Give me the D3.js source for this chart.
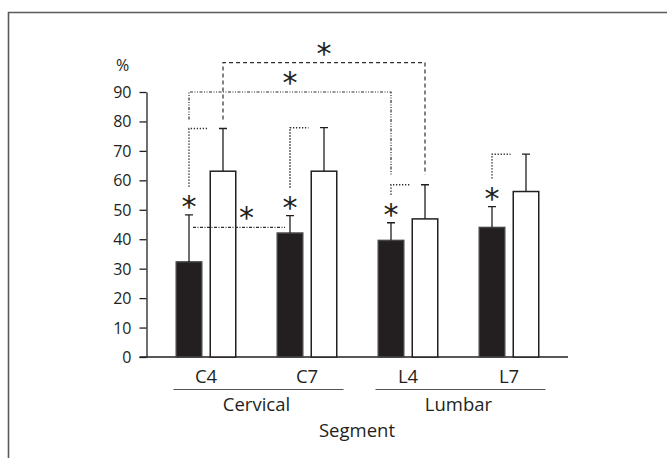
<!DOCTYPE html>
<html>
<head>
<script src="https://d3js.org/d3.v7.min.js"></script>
<style>
  body { margin: 0; background: #fff; }
  svg text { font-family: "Open Sans", sans-serif; fill: #231f20; }
</style>
</head>
<body>
<svg width="667" height="458"></svg>
<script>
// data (%), upper error bar = mean + SD
const segments = ["C4", "C7", "L4", "L7"];
const regions = [
  { name: "Cervical", segs: ["C4", "C7"] },
  { name: "Lumbar", segs: ["L4", "L7"] }
];
const series = ["filled", "open"];
const filledMean = [32.3, 42.1, 39.6, 44.0];
const filledErr = [48.3, 48.0, 45.6, 51.1];
const openMean = [63.1, 63.1, 46.9, 56.2];
const openErr = [77.6, 77.9, 58.5, 68.9];
const yTicks = [0, 10, 20, 30, 40, 50, 60, 70, 80, 90];

// significance: within each segment (filled vs open), and between segments
const withinSig = ["C4", "C7", "L4", "L7"];
const betweenSig = [
  { from: "C4", to: "C7", series: "filled", level: 44 },
  { from: "C4", to: "L4", series: "filled", level: 90 },
  { from: "C4", to: "L4", series: "open", level: 100 }
];

const svg = d3.select("svg");
const ink = "#231f20";

const rows = segments.map((s, i) => ({
  seg: s,
  filled: { mean: filledMean[i], err: filledErr[i] },
  open: { mean: openMean[i], err: openErr[i] }
}));
const bySeg = new Map(rows.map(d => [d.seg, d]));

// frame (top and left edges only)
svg.append("path")
  .attr("d", "M8.5,458V12.5H667")
  .attr("fill", "none")
  .attr("stroke", "#5a5a5a")
  .attr("stroke-width", 1.6);

const y = d3.scaleLinear().domain([0, 90]).range([357, 92]);
const x = d3.scaleBand().domain(segments).range([155.5, 559.5]);
const xs = d3.scaleBand().domain(series).range([20, 81]).paddingInner(0.206);
const cx = (seg, s) => x(seg) + xs(s) + xs.bandwidth() / 2;

// y axis
const yAxis = svg.append("g")
  .attr("transform", "translate(146.5,0)")
  .call(d3.axisLeft(y).tickValues(yTicks).tickSize(7).tickSizeOuter(0).tickPadding(8));
yAxis.selectAll("path, line").attr("stroke", ink).attr("stroke-width", 1.3);
yAxis.selectAll("text").style("font-size", "16px").attr("fill", ink).attr("dy", "0.34em");

svg.append("text")
  .attr("x", 122.5).attr("y", 71)
  .attr("text-anchor", "middle")
  .style("font-size", "16px")
  .text("%");

// baseline
svg.append("line")
  .attr("x1", 139.5).attr("x2", x.range()[1] + 8.5)
  .attr("y1", y(0)).attr("y2", y(0))
  .attr("stroke", ink).attr("stroke-width", 1.3);

// bars
const g = svg.append("g");
series.forEach(s => {
  g.selectAll(".bar-" + s)
    .data(rows)
    .join("rect")
    .attr("x", d => x(d.seg) + xs(s) + 0.75)
    .attr("width", xs.bandwidth() - 1.5)
    .attr("y", d => y(d[s].mean))
    .attr("height", d => y(0) - y(d[s].mean))
    .attr("fill", s === "filled" ? ink : "#fff")
    .attr("stroke", s === "filled" ? "#444" : ink)
    .attr("stroke-width", 1.5);

  // upper error bars
  g.selectAll(".err-" + s)
    .data(rows)
    .join("path")
    .attr("d", d => {
      const c = cx(d.seg, s);
      return `M${c},${y(d[s].mean)}V${y(d[s].err)}M${c - 4},${y(d[s].err)}H${c + 4}`;
    })
    .attr("fill", "none")
    .attr("stroke", ink)
    .attr("stroke-width", 1.3);
});

// x labels
svg.append("g").selectAll("text")
  .data(segments)
  .join("text")
  .attr("x", d => x(d) + x.bandwidth() / 2)
  .attr("y", 383)
  .attr("text-anchor", "middle")
  .style("font-size", "18.5px")
  .text(d => d);

regions.forEach(r => {
  const x0 = x(r.segs[0]) + 18;
  const x1 = x(r.segs[r.segs.length - 1]) + 87;
  svg.append("line")
    .attr("x1", x0).attr("x2", x1)
    .attr("y1", 389.5).attr("y2", 389.5)
    .attr("stroke", "#555").attr("stroke-width", 1);
  svg.append("text")
    .attr("x", (x0 + x1) / 2 - 2)
    .attr("y", 410.5)
    .attr("text-anchor", "middle")
    .style("font-size", "18.5px")
    .text(r.name);
});

svg.append("text")
  .attr("x", 357).attr("y", 436.5)
  .attr("text-anchor", "middle")
  .style("font-size", "18.5px")
  .text("Segment");

// asterisk helper: (px, py) is the centre of the glyph
function star(px, py) {
  svg.append("text")
    .attr("x", px).attr("y", py + 17)
    .attr("text-anchor", "middle")
    .style("font-family", "DejaVu Sans")
    .style("font-size", "30px")
    .text("*");
}

const ann = svg.append("g")
  .attr("fill", "none")
  .attr("stroke", "#2e2e2e")
  .attr("stroke-width", 1.2);

// within-segment brackets (dotted)
withinSig.forEach(seg => {
  const d = bySeg.get(seg);
  const c = cx(seg, "filled");
  const top = y(d.open.err);
  ann.append("path")
    .attr("d", `M${c},${y(d.filled.err) - 28}V${top}H${x(seg) + xs("open") - 2}`)
    .attr("stroke-width", 1.5)
    .attr("stroke-dasharray", "1.3,1.7");
  star(c, y(d.filled.err) - 15);
});

// between-segment brackets
const dashes = ["3,1.5,1,1.5", "3,1.5,1,1.5,1,1.5", "4,3"];
betweenSig.forEach((b, i) => {
  const a = bySeg.get(b.from), z = bySeg.get(b.to);
  const xa = cx(b.from, b.series), xz = cx(b.to, b.series);
  const ly = y(b.level);
  let path, mid;
  if (i === 0) {
    path = `M${xa + 4},${ly}H${xz - 5}`;
    mid = (xa + xz) / 2 + 7;
  } else {
    path = `M${xa},${y(a.open.err) - 9}V${ly}H${xz}V${y(z.open.err) - 10}`;
    mid = (xa + xz) / 2;
  }
  ann.append("path").attr("d", path).attr("stroke-dasharray", dashes[i]);
  star(mid, ly - 16);
});
</script>
</body>
</html>
